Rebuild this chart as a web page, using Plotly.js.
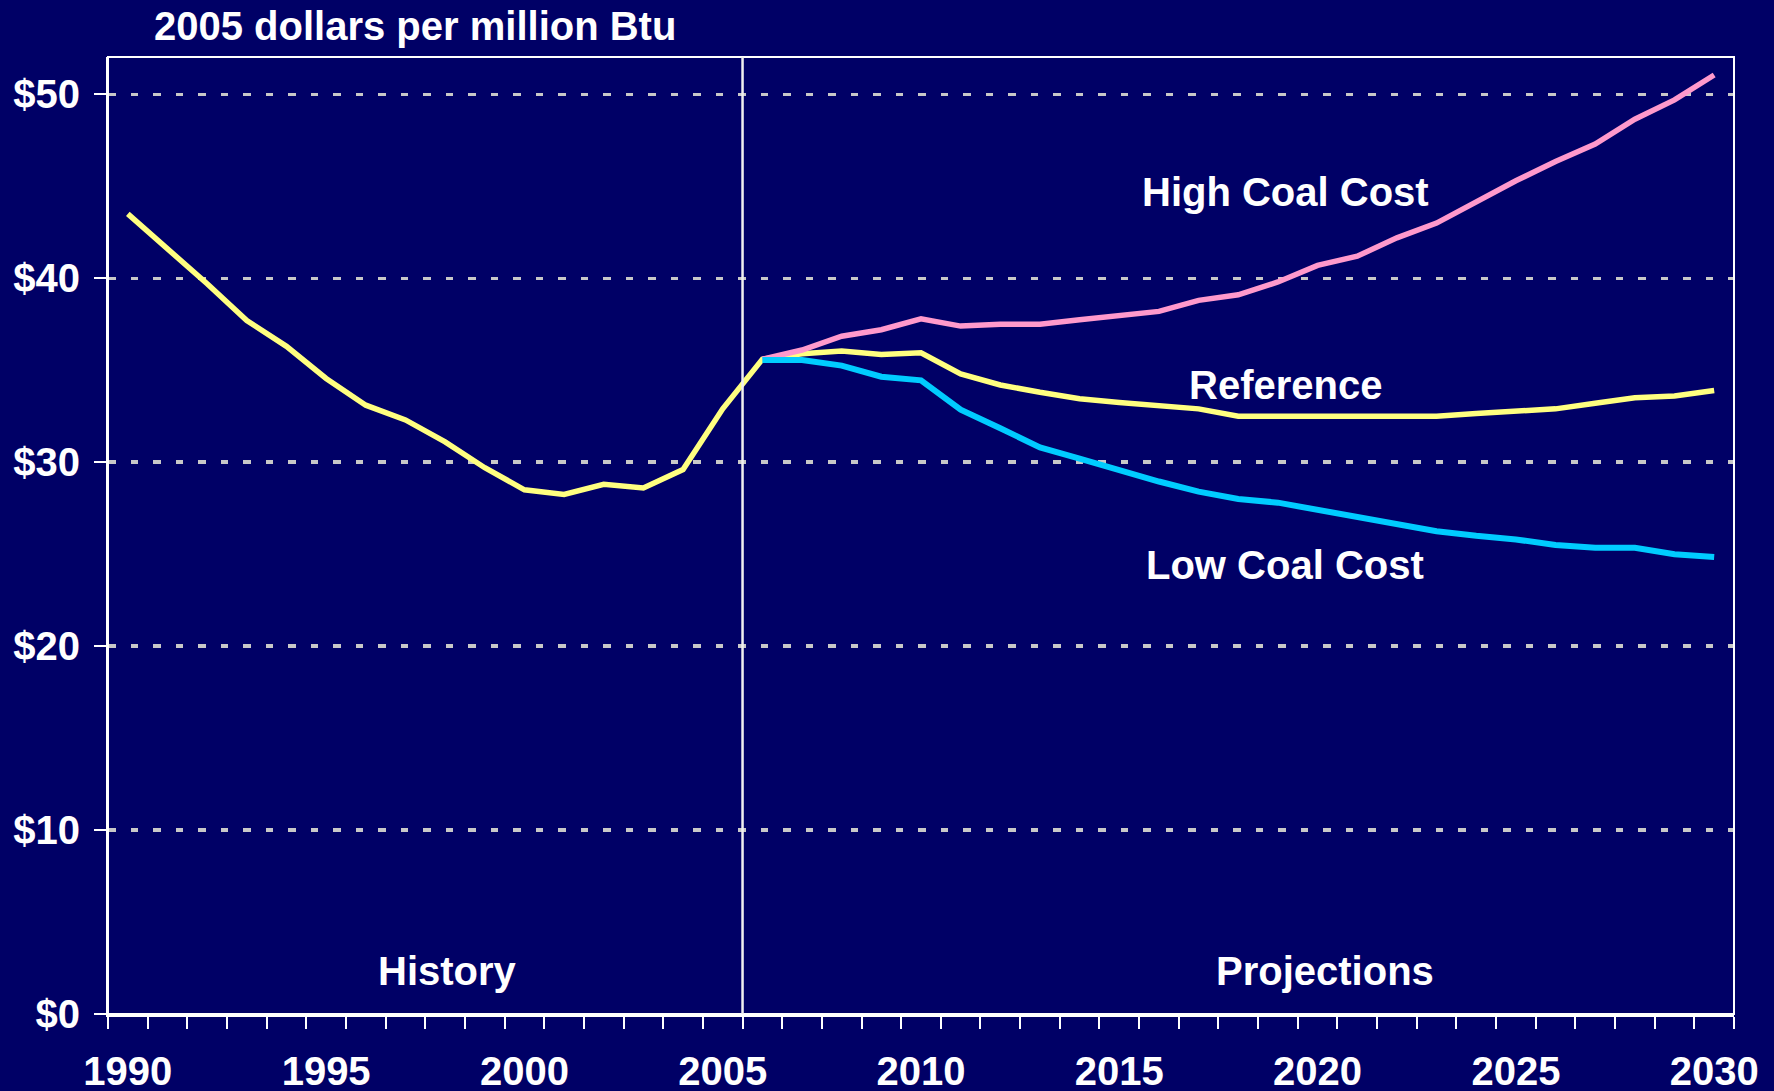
<!DOCTYPE html>
<html>
<head>
<meta charset="utf-8">
<script src="https://cdn.plot.ly/plotly-3.0.1.min.js"></script>
<style>
  html, body { margin: 0; padding: 0; background: #000066; }
  #chart { width: 1774px; height: 1091px; }
</style>
</head>
<body>
<div id="chart"></div>
<script>
// ---- data (2005 dollars per million Btu) ----
const years = [1990,1991,1992,1993,1994,1995,1996,1997,1998,1999,2000,2001,2002,2003,2004,2005,
  2006,2007,2008,2009,2010,2011,2012,2013,2014,2015,2016,2017,2018,2019,2020,2021,2022,2023,2024,2025,2026,2027,2028,2029,2030];
const reference = [43.5,41.6,39.7,37.7,36.3,34.55,33.1,32.3,31.1,29.7,28.5,28.25,28.8,28.6,29.6,32.9,
  35.6,35.9,36.05,35.85,35.95,34.8,34.2,33.8,33.45,33.25,33.05,32.9,32.5,32.5,32.5,32.5,32.5,32.5,32.65,32.75,32.9,33.2,33.5,33.6,33.9];
const projYears = [2006,2007,2008,2009,2010,2011,2012,2013,2014,2015,2016,2017,2018,2019,2020,2021,2022,2023,2024,2025,2026,2027,2028,2029,2030];
const highCoalCost = [35.6,36.1,36.85,37.2,37.8,37.4,37.5,37.5,37.75,37.95,38.2,38.8,39.1,39.8,40.7,41.2,42.2,43.0,44.15,45.3,46.35,47.3,48.65,49.7,51.05];
const lowCoalCost = [35.55,35.55,35.25,34.65,34.45,32.85,31.85,30.8,30.2,29.55,28.95,28.4,28.0,27.8,27.4,27.0,26.65,26.25,26.0,25.8,25.5,25.35,25.35,25.0,24.85];

const xLabelYears = [1990,1995,2000,2005,2010,2015,2020,2025,2030];
const yTickVals = [0,10,20,30,40,50];
const yTickText = ['$0','$10','$20','$30','$40','$50'];
const seriesLabels = ['High Coal Cost','Reference','Low Coal Cost'];
const periodLabels = ['History','Projections'];
const titleText = '2005 dollars per million Btu';

// ---- style ----
const FONT = 'Liberation Sans, Arial, sans-serif';
const BG = '#000066';
const boundaries = [];
for (let i = 0; i <= years.length; i++) boundaries.push(years[0] - 0.5 + i);

const traces = [
  { x: years, y: reference, type: 'scatter', mode: 'lines', name: 'Reference',
    line: { color: '#FFFF80', width: 5.5 }, hoverinfo: 'x+y' },
  { x: projYears, y: highCoalCost, type: 'scatter', mode: 'lines', name: 'High Coal Cost',
    line: { color: '#FF99CC', width: 5.5 }, hoverinfo: 'x+y' },
  { x: projYears, y: lowCoalCost, type: 'scatter', mode: 'lines', name: 'Low Coal Cost',
    line: { color: '#00CCFF', width: 6 }, hoverinfo: 'x+y' }
];

const labelFont = { family: FONT, size: 40, color: '#FFFFFF', weight: 'bold' };

const layout = {
  width: 1774, height: 1091,
  paper_bgcolor: BG, plot_bgcolor: BG,
  showlegend: false,
  margin: { l: 108, r: 40, t: 57, b: 77, pad: 0 },
  title: {
    text: titleText,
    font: { family: FONT, size: 40, color: '#FFFFFF', weight: 'bold' },
    xref: 'container', x: 154 / 1774, xanchor: 'left',
    yref: 'container', y: 1 - 26 / 1091, yanchor: 'middle'
  },
  xaxis: {
    range: [years[0] - 0.5, years[years.length - 1] + 0.5],
    tickmode: 'array', tickvals: xLabelYears, ticktext: xLabelYears.map(String),
    ticks: '', showgrid: false, zeroline: false,
    showline: true, linecolor: '#FFFFFF', linewidth: 3,
    tickfont: labelFont, ticklabelstandoff: 20,
    minor: { tickmode: 'array', tickvals: boundaries, ticks: 'outside', ticklen: 12,
             tickwidth: 2, tickcolor: '#FFFFFF', showgrid: false },
    automargin: false, fixedrange: true
  },
  yaxis: {
    range: [0, 52.03],
    tickmode: 'array', tickvals: yTickVals, ticktext: yTickText,
    ticks: 'outside', ticklen: 12, tickwidth: 2, tickcolor: '#FFFFFF',
    showgrid: true, gridcolor: '#C8C8C8', gridwidth: 3.5, griddash: '7.5px,15px',
    zeroline: false,
    showline: true, linecolor: '#FFFFFF', linewidth: 2,
    tickfont: labelFont, ticklabelstandoff: 6,
    automargin: false, fixedrange: true
  },
  shapes: [
    { type: 'rect', xref: 'paper', yref: 'paper', x0: 0, x1: 1, y0: 0, y1: 1,
      line: { color: '#FFFFFF', width: 2 }, layer: 'above' },
    { type: 'line', xref: 'x', yref: 'paper', x0: 2005.5, x1: 2005.5, y0: 0, y1: 1,
      line: { color: '#F0F0F0', width: 2.5 }, layer: 'above' }
  ],
  annotations: [
    { text: seriesLabels[0], x: 2019.19, y: 44.7, xref: 'x', yref: 'y', showarrow: false,
      xanchor: 'center', yanchor: 'middle', font: labelFont },
    { text: seriesLabels[1], x: 2019.19, y: 34.2, xref: 'x', yref: 'y', showarrow: false,
      xanchor: 'center', yanchor: 'middle', font: labelFont },
    { text: seriesLabels[2], x: 2019.19, y: 24.4, xref: 'x', yref: 'y', showarrow: false,
      xanchor: 'center', yanchor: 'middle', font: labelFont },
    { text: periodLabels[0], x: 1998.07, y: 2.36, xref: 'x', yref: 'y', showarrow: false,
      xanchor: 'center', yanchor: 'middle', font: labelFont },
    { text: periodLabels[1], x: 2020.18, y: 2.36, xref: 'x', yref: 'y', showarrow: false,
      xanchor: 'center', yanchor: 'middle', font: labelFont }
  ]
};

Plotly.newPlot('chart', traces, layout, { displayModeBar: false, staticPlot: true });
</script>
</body>
</html>
